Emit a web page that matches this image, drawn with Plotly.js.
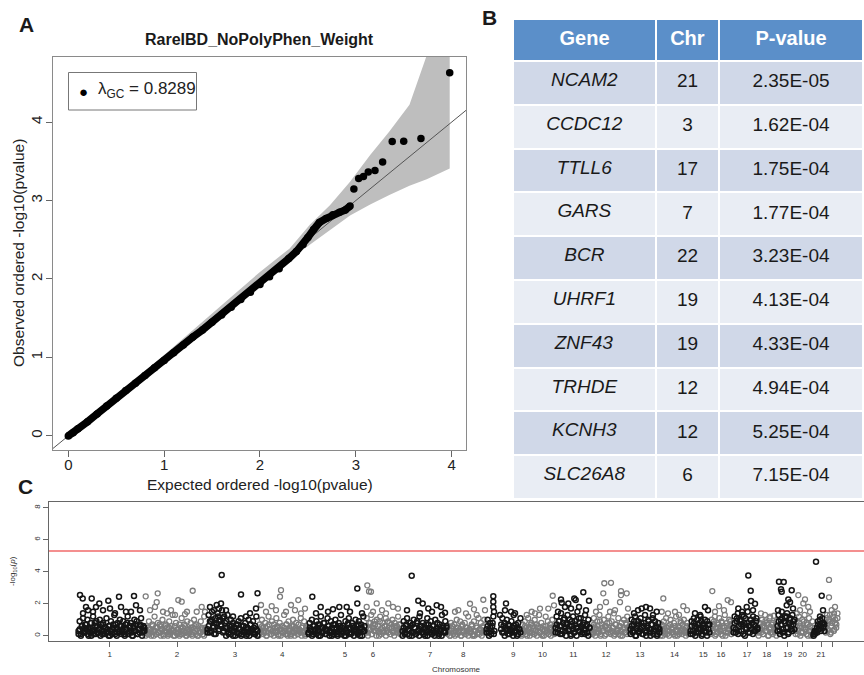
<!DOCTYPE html>
<html><head><meta charset="utf-8">
<script src="https://cdn.plot.ly/plotly-3.0.1.min.js"></script>
<style>html,body{margin:0;padding:0;background:#fff}#chart{width:864px;height:675px}
#chart .table .cell-text{transform:translateY(4px)}</style>
</head><body><div id="chart"></div>
<script>
// ---------- Panel B: top genes ----------
const genes = ['NCAM2','CCDC12','TTLL6','GARS','BCR','UHRF1','ZNF43','TRHDE','KCNH3','SLC26A8'];
const geneChr = ['21','3','17','7','22','19','19','12','12','6'];
const pValues = ['2.35E-05','1.62E-04','1.75E-04','1.77E-04','3.23E-04','4.13E-04','4.33E-04','4.94E-04','5.25E-04','7.15E-04'];

// ---------- Panel A: QQ plot ----------
const lambdaGC = '0.8289';
const qqExpBulk = [0.00,0.05,0.10,0.20,0.30,0.40,0.50,0.60,0.70,0.80,0.90,1.00,1.10,1.20,1.30,1.40,1.50,1.60,1.70,1.80,1.90,2.00,2.10,2.20,2.30,2.38,2.45,2.50,2.56,2.62,2.69,2.76,2.83,2.89,2.94];
const qqObsBulk = [0.00,0.04,0.09,0.18,0.28,0.38,0.48,0.58,0.67,0.77,0.87,0.96,1.06,1.16,1.26,1.35,1.45,1.54,1.64,1.74,1.83,1.93,2.03,2.13,2.26,2.35,2.44,2.53,2.63,2.72,2.77,2.82,2.85,2.88,2.93];
const qqExpTop = [3.98,3.68,3.50,3.38,3.28,3.20,3.13,3.08,3.03,2.98];
const bandX     = [0.00,0.50,1.00,1.50,2.00,2.31,2.52,2.73,2.94,3.15,3.35,3.56,3.74,3.98];
const bandUpper = [0.00,0.51,1.03,1.56,2.09,2.39,2.69,2.94,3.24,3.58,3.88,4.22,4.85,5.60];
const bandLower = [0.00,0.49,0.97,1.45,1.92,2.25,2.43,2.62,2.81,2.95,3.07,3.19,3.27,3.41];

// ---------- Panel C: Manhattan plot ----------
const chromLabels = ['1','2','3','4','5','6','7','8','9','10','11','12','13','14','15','16','17','18','19','20','21',''];
const chromTicks = [109.7,177,235,282.3,345,373,430,463.3,513.3,542.5,573.3,606,640,674.5,703.3,721,747,766.7,787.7,802.5,821,832.3];
const chromStart = [78,145,207,258,308,365,402,447,486,521,555,590,630,660,690,710,733,758,777,795,813,825];
const chromEnd   = [145,207,258,308,365,402,447,486,521,555,590,630,660,690,710,733,758,777,795,813,825,838];
const threshold = 5.29;
const bandY = [
 [0.3,0.9,0.1,0.6,1.1,0.2,0.7,0.4,1.0,0.0,0.5,0.8,0.3,1.2,0.1,0.6,0.9,0.2,0.4,1.0,0.7,0.1,0.8,0.3,0.5,1.1,0.2,0.6,0.0,0.9,0.4,0.7,1.3,0.1,0.5,0.8,0.2,1.0,0.6,0.3,0.9,0.1,0.7,0.4,1.2,0.2,0.5,0.8,0.0,0.6,1.0,0.3,0.9,0.1,0.4,0.7,1.1,0.2,0.6,0.3],
 [0.2,0.6,0.1,0.9,0.4,0.0,0.7,0.3,1.2,0.5,0.1,0.8,0.2,0.6,0.4,1.0,0.0,0.3,0.7,0.5,0.1,0.9,0.2,0.6,1.3,0.3,0.0,0.8,0.4,0.2,0.7,0.1,1.1,0.5,0.3,0.6,0.0,0.9,0.2,0.4,0.8,0.1,0.5,1.0,0.3,0.7,0.0,0.6,0.2,0.9,0.4,0.1,1.2,0.5,0.3],
 [0.4,1.3,0.2,0.9,1.5,0.6,0.1,1.1,0.8,1.4,0.3,1.0,0.7,1.6,0.2,1.2,0.5,0.9,1.3,0.1,0.6,1.0,0.3,0.8,0.5,0.0,0.7,0.2,0.9,0.4,1.1,0.1,0.6,0.3,0.8,0.0,0.5,1.0,0.2,0.7,0.4,0.9,0.1,0.6,1.2,0.3],
 [0.1,0.7,0.3,1.0,0.5,0.2,0.8,0.0,0.6,1.2,0.4,0.1,0.9,0.3,0.7,0.2,1.1,0.5,0.0,0.8,0.4,0.6,0.2,1.3,0.3,0.7,0.1,0.9,0.5,0.0,0.6,1.0,0.2,0.4,0.8,0.1,0.7,0.3,1.1,0.5,0.2,0.9,0.0,0.6,0.4],
 [0.2,0.8,0.4,1.0,0.1,0.6,0.3,0.9,0.5,0.0,0.7,1.2,0.2,0.5,0.8,0.1,0.4,1.1,0.6,0.3,0.9,0.0,0.7,0.2,1.0,0.5,0.1,0.8,0.4,1.3,0.3,0.6,0.0,0.9,0.2,0.7,1.1,0.4,0.1,0.8,0.5,0.3,1.0,0.6,0.2,0.9,0.0,0.7,0.4,1.2,0.3],
 [0.5,1.1,0.2,0.8,0.4,1.3,0.1,0.7,0.9,0.3,1.0,0.6,0.0,1.2,0.4,0.8,0.2,0.6,1.1,0.3,0.9,0.5,0.1,0.7,1.0,0.2,0.8,0.4,0.6,1.2,0.3,0.7,0.1],
 [0.3,0.9,0.1,0.6,1.1,0.4,0.0,0.8,0.2,0.7,1.0,0.5,0.1,0.9,0.3,1.2,0.6,0.2,0.8,0.4,0.0,0.7,1.1,0.3,0.5,0.9,0.1,0.6,0.2,1.0,0.4,0.8,0.0,0.7,0.3,1.3,0.5,0.2,0.9,0.6],
 [0.2,0.6,0.0,0.8,0.4,0.1,0.7,0.3,1.0,0.5,0.2,0.9,0.0,0.6,0.3,0.8,0.1,0.5,1.2,0.4,0.2,0.7,0.0,0.9,0.3,0.6,0.1,1.1,0.4,0.8,0.2,0.5,1.0,0.3],
 [0.4,1.0,0.2,0.8,0.1,0.6,1.2,0.3,null,null,null,null,null,0.7,1.1,0.2,0.8,0.4,1.0,0.1,0.6,0.3,0.9,0.5,1.3,0.2,0.7,0.0,0.8,0.4,1.1],
 [0.1,0.7,0.3,0.9,0.5,0.0,1.1,0.4,0.2,0.8,0.6,0.1,1.0,0.3,0.7,0.5,1.3,0.2,0.8,0.0,0.6,0.4,1.2,0.3,0.9,0.1,0.7,0.5,1.0,0.2,0.6],
 [0.5,1.2,0.2,0.9,0.6,1.4,0.1,0.8,1.1,0.3,0.7,1.3,0.4,1.0,0.0,0.6,1.2,0.2,0.9,0.5,1.5,0.3,0.8,1.1,0.1,0.7,0.4,1.3,0.6,0.2,1.0,0.5],
 [0.3,0.8,0.1,1.1,0.5,0.2,0.9,0.4,1.3,0.0,0.7,0.3,1.0,0.6,0.1,0.8,1.2,0.4,0.2,0.9,0.5,1.4,0.1,0.7,0.3,1.1,0.6,0.0,0.8,0.4,1.0,0.2,0.7,1.2,0.5,0.3],
 [0.4,1.0,0.2,0.7,1.2,0.0,0.6,0.9,0.3,1.1,0.5,0.1,0.8,1.3,0.2,0.6,1.0,0.4,0.0,0.7,1.1,0.3,0.9,0.5,0.1,0.8,0.4],
 [0.2,0.7,0.0,0.9,0.4,1.1,0.1,0.6,0.3,1.0,0.5,0.2,0.8,0.0,1.2,0.4,0.6,0.1,0.9,0.3,0.7,1.0,0.2,0.5,0.8,0.1,0.6],
 [0.3,0.9,0.1,1.1,0.6,0.2,1.0,0.4,0.8,1.2,0.0,0.7,0.5,1.0,0.2,0.9,0.4,0.7],
 [0.4,1.0,0.2,0.7,1.2,0.1,0.8,0.5,1.1,0.3,0.9,0.0,0.6,1.3,0.2,0.8,0.4,1.0,0.6,0.1,0.7],
 [0.5,1.2,0.2,0.9,1.4,0.3,1.0,0.7,1.3,0.1,0.8,1.1,0.4,1.5,0.6,0.2,1.0,0.8,1.2,0.3,0.6,1.1,0.4],
 [0.2,0.8,0.4,1.0,0.1,0.6,0.9,0.3,0.7,0.0,1.1,0.5,0.2,0.8,0.4,0.6,0.9],
 [0.6,1.3,0.3,1.0,1.5,0.2,0.9,1.2,0.5,1.4,0.1,0.8,1.1,0.4,1.3,0.7,1.0],
 [0.3,0.9,0.1,1.2,0.6,0.2,1.0,0.5,1.3,0.4,0.8,0.0,1.1,0.6,0.3,0.9],
 [0.1,0.3,0.2,0.5,0.7,0.4,1.0,0.6,1.1,0.8,0.3],
 [0.5,1.1,0.3,0.9,1.3,0.2,0.8,1.2,0.4,1.0,0.7,1.4]
];
const bandY2 = [
 [0.1,0.4,0.0,0.6,0.2,0.5,0.3,0.7,0.1,0.4,0.2,0.0,0.5,0.3,0.8,0.1,0.6,0.2,0.4,0.0,0.3,0.7,0.1,0.5,0.2,0.4,0.0,0.6,0.3,0.1,0.5,0.2,0.7,0.0,0.4,0.3,0.6,0.1,0.2,0.5,0.0,0.4,0.8,0.1,0.3,0.6,0.2,0.0,0.5,0.3,0.7,0.1,0.4,0.2,0.6,0.0,0.3,0.5],
 [0.0,0.3,0.5,0.1,0.4,0.2,0.6,0.0,0.3,0.1,0.5,0.2,0.7,0.0,0.4,0.1,0.3,0.6,0.2,0.0,0.5,0.1,0.4,0.3,0.0,0.6,0.2,0.1,0.4,0.0,0.5,0.3,0.1,0.7,0.2,0.0,0.4,0.1,0.3,0.5,0.0,0.2,0.6,0.1,0.4,0.0,0.3,0.2,0.5,0.1,0.0,0.4,0.2],
 [0.2,0.6,0.9,0.3,1.0,0.5,0.8,0.1,0.7,1.2,0.4,0.9,0.6,1.1,0.3,0.8,0.0,0.5,0.2,0.4,0.1,0.6,0.0,0.3,0.5,0.2,0.7,0.1,0.4,0.0,0.3,0.6,0.2,0.5,0.1,0.4,0.0,0.7,0.3,0.2,0.5,0.1,0.4,0.0],
 [0.0,0.4,0.2,0.6,0.1,0.3,0.5,0.0,0.2,0.7,0.4,0.1,0.3,0.0,0.5,0.2,0.6,0.1,0.4,0.0,0.3,0.2,0.5,0.1,0.7,0.0,0.3,0.4,0.1,0.2,0.6,0.0,0.5,0.3,0.1,0.4,0.2,0.0,0.6,0.3,0.1,0.5,0.2],
 [0.1,0.5,0.3,0.0,0.6,0.2,0.4,0.1,0.7,0.3,0.0,0.5,0.2,0.8,0.4,0.1,0.3,0.6,0.0,0.2,0.5,0.1,0.4,0.7,0.2,0.0,0.3,0.6,0.1,0.5,0.2,0.4,0.0,0.3,0.8,0.1,0.5,0.2,0.6,0.0,0.4,0.3,0.1,0.7,0.2,0.5,0.0,0.3,0.6],
 [0.2,0.6,0.0,0.4,0.8,0.1,0.5,0.3,0.7,0.0,0.4,0.2,0.9,0.1,0.5,0.3,0.6,0.0,0.4,0.2,0.8,0.1,0.5,0.3,0.0,0.6,0.2,0.4,0.7,0.1,0.3],
 [0.0,0.5,0.2,0.7,0.1,0.4,0.3,0.6,0.0,0.2,0.5,0.1,0.8,0.3,0.0,0.4,0.6,0.2,0.1,0.5,0.3,0.0,0.7,0.2,0.4,0.1,0.6,0.0,0.3,0.5,0.2,0.1,0.4,0.0,0.6,0.3,0.2,0.5],
 [0.1,0.4,0.0,0.3,0.6,0.2,0.0,0.5,0.1,0.3,0.4,0.0,0.7,0.2,0.1,0.5,0.3,0.0,0.4,0.2,0.6,0.1,0.0,0.3,0.5,0.2,0.1,0.4,0.0,0.6,0.3,0.2],
 [0.2,0.6,0.0,0.5,0.3,0.8,0.1,null,null,null,null,null,0.4,0.2,0.6,0.0,0.5,0.3,0.7,0.1,0.4,0.2,0.0,0.6,0.3,0.5,0.1,0.4,0.2],
 [0.0,0.4,0.2,0.6,0.1,0.3,0.5,0.0,0.7,0.2,0.4,0.1,0.3,0.0,0.6,0.2,0.5,0.1,0.4,0.0,0.3,0.6,0.2,0.1,0.5,0.0,0.4,0.3,0.1],
 [0.2,0.7,0.4,0.9,0.1,0.6,0.3,1.0,0.5,0.0,0.8,0.3,0.6,0.1,0.9,0.4,0.2,0.7,0.0,0.5,1.1,0.3,0.6,0.2,0.8,0.1,0.4,0.7,0.0,0.5],
 [0.1,0.5,0.2,0.7,0.0,0.4,0.6,0.2,0.9,0.1,0.5,0.3,0.0,0.6,0.4,0.2,0.8,0.1,0.3,0.5,0.0,0.7,0.2,0.4,0.1,0.6,0.3,0.0,0.5,0.2,0.8,0.1,0.4,0.6],
 [0.1,0.6,0.3,0.9,0.0,0.5,0.7,0.2,0.4,0.8,0.1,0.6,0.3,0.0,0.5,0.9,0.2,0.4,0.7,0.1,0.3,0.6,0.0,0.5,0.2],
 [0.0,0.4,0.2,0.6,0.1,0.5,0.3,0.0,0.7,0.2,0.4,0.1,0.6,0.3,0.0,0.5,0.2,0.8,0.1,0.4,0.3,0.0,0.6,0.2,0.4],
 [0.1,0.6,0.3,0.8,0.0,0.5,0.7,0.2,0.4,0.9,0.1,0.6,0.3,0.5,0.0,0.7,0.2],
 [0.1,0.6,0.3,0.9,0.0,0.5,0.2,0.7,0.4,0.1,0.8,0.3,0.5,0.0,0.6,0.2,0.4,0.9,0.1,0.3],
 [0.2,0.8,0.4,1.1,0.1,0.6,0.9,0.3,0.7,1.2,0.0,0.5,0.8,0.2,0.6,1.0,0.4,0.1,0.7,0.3,0.9,0.5],
 [0.0,0.4,0.2,0.6,0.1,0.5,0.3,0.8,0.0,0.4,0.2,0.7,0.1,0.5,0.3,0.0],
 [0.3,0.9,0.1,0.7,1.1,0.4,0.0,0.8,1.2,0.5,0.2,1.0,0.6,0.3,0.9,0.4],
 [0.1,0.6,0.3,0.8,0.0,0.5,0.2,0.9,0.4,0.1,0.7,0.3,0.6,0.0,0.5],
 [0.0,0.1,0.3,0.2,0.4,0.6,0.3,0.8,0.5,0.7],
 [0.2,0.7,0.4,1.0,0.1,0.6,0.9,0.3,0.8,0.5,1.1]
];
const peakChr = [1,1,1,1,1,1,1,1,1,1,1,1,1,1,1,1,1,1,1,1,
 2,2,2,2,2,2,2,2,2,2,2,2,2,2,2,2,2,
 3,3,3,3,3,3,3,3,3,3,3,3,3,
 4,4,4,4,4,4,4,4,4,4,4,4,
 5,5,5,5,5,5,5,5,5,5,5,
 6,6,6,6,6,6,6,6,6,6,6,
 7,7,7,7,7,7,7,7,7,7,
 8,8,8,8,8,8,8,8,
 9,9,9,9,9,9,9,9,9,
 10,10,10,10,10,10,10,
 11,11,11,11,11,11,11,11,11,11,11,11,
 12,12,12,12,12,12,12,12,12,12,12,12,12,
 13,13,13,13,13,13,13,
 14,14,14,14,14,14,14,
 15,15,15,15,
 16,16,16,16,16,16,
 17,17,17,17,17,17,17,17,
 18,18,18,18,
 19,19,19,19,19,19,19,19,19,19,
 20,20,20,20,20,20,20,
 21,21,21,21,21,
 22,22,22,22,22,22];
const peakPos = [80,82.7,91.7,99.3,108.3,119,134,86,96,110,121,136,88,103,126,140,83,93,115,131,
 145.7,156.7,157.7,155,163,171,178.3,181.7,192.7,187,196.7,201.7,150,167,175,185,205,
 210,216.7,221.7,221,214,233,241,246,256,257.5,250,226,219,
 261,271.7,280,281,291,298.3,301,266,276,286,295,305,
 312.3,320.7,328,333,339.3,346.7,357.3,357.3,316,350,362,
 367.3,369,371,376.7,388.3,393,366.7,382,398,373,386,
 411.7,418.3,422.7,436.7,428.3,407,432,441,445,420,
 455,470,458.3,476.7,483.3,485,466,474,
 493.3,493.3,493.3,494,506,505,511,515,500,
 531.7,540,548.3,552.7,535,526.7,554,
 561,561.7,568.3,574.3,575.7,583.3,589,565,571,579,586,558,
 604.3,611,603.3,606,621,621,626.7,620,615,596,610,628,600,
 641.7,646,650,656.7,634,638,653,
 663.3,683.3,661.7,675,668,687,679,
 705,708,695,700,
 712.3,719,727.7,731,715,724,
 748.3,750.7,751,755,746.7,738.3,742,753,
 770,765,761,774,
 779,783.7,781,781.7,791.7,788.3,790,786.7,778,793,
 798.3,805,803.3,808.3,810,800,797,
 816,821.7,820,823,818,
 829,829,835,831.7,834,827];
const peakY = [2.54,2.33,2.33,2.02,2.19,2.44,2.48,1.8,1.8,1.7,1.8,1.9,1.6,1.6,1.5,1.6,1.4,1.5,1.4,1.5,
 2.46,2.1,2.65,1.8,1.5,1.6,2.23,2.13,2.81,1.5,1.5,1.8,1.6,1.4,1.3,1.35,1.5,
 1.8,1.92,3.79,2.02,1.6,1.2,2.58,1.2,1.7,2.65,1.4,1.6,1.7,
 1.92,1.85,2.44,2.85,1.92,2.23,1.4,1.5,1.6,1.5,1.6,1.7,
 2.44,1.8,1.5,1.65,1.8,1.8,2.96,2.02,1.4,1.5,1.4,
 3.15,2.77,2.75,2.02,2.02,1.8,1.8,1.6,1.7,1.5,1.4,
 3.75,2.19,2.02,1.9,1.7,1.6,1.5,1.8,1.44,1.4,
 1.5,2.0,1.6,1.3,2.25,1.6,1.4,1.65,
 2.46,2.13,1.8,1.5,2.02,1.6,1.5,1.4,1.3,
 1.5,1.7,1.7,2.5,1.4,1.3,1.9,
 2.27,2.06,2.02,2.33,2.23,2.71,2.19,1.8,1.7,1.8,1.6,1.5,
 3.28,3.31,2.65,2.1,2.79,2.54,2.65,2.1,1.6,1.5,1.5,1.7,1.8,
 1.7,1.8,1.7,1.5,1.4,1.6,1.3,
 2.33,1.85,1.5,1.5,1.4,1.6,1.3,
 1.8,1.6,1.4,1.3,
 2.79,1.85,2.23,2.1,1.5,1.6,
 3.76,2.81,2.17,2.0,1.8,1.7,1.5,1.6,
 1.2,1.3,1.4,1.25,
 3.38,3.36,2.9,2.75,2.85,2.27,2.1,1.9,1.6,1.7,
 2.54,2.27,2.02,1.8,1.5,1.6,1.4,
 4.63,2.5,1.2,1.6,0.9,
 3.49,2.4,1.8,1.6,1.4,1.3];

// ---------- build ----------
const FONT = 'Liberation Sans, Arial, Helvetica, sans-serif';
const W = 864, H = 675;
const px = v => v / W, py = v => 1 - v / H;
const BLACK = '#151515', GREY = '#7c7c7c';

const qqObsTop = pValues.map(p => -Math.log10(parseFloat(p)));

const traces = [];
traces.push({type:'scatter', mode:'lines', xaxis:'x', yaxis:'y',
  x: bandX.concat(bandX.slice().reverse()),
  y: bandUpper.concat(bandLower.slice().reverse()),
  fill:'toself', fillcolor:'#BEBEBE', line:{width:0, color:'#BEBEBE'}, hoverinfo:'skip', showlegend:false});
traces.push({type:'scatter', mode:'lines', xaxis:'x', yaxis:'y', x:[-0.5,4.5], y:[-0.5,4.5],
  line:{color:'#555', width:1}, showlegend:false, hoverinfo:'skip'});
traces.push({type:'scatter', mode:'lines+markers', xaxis:'x', yaxis:'y', x:qqExpBulk, y:qqObsBulk,
  line:{color:'#000', width:7.5}, marker:{color:'#000', size:7.5}, showlegend:false});
traces.push({type:'scatter', mode:'markers', xaxis:'x', yaxis:'y', x:qqExpTop, y:qqObsTop,
  marker:{color:'#000', size:7.5}, showlegend:false});

// Manhattan
const mx = {b:[], g:[]}, my = {b:[], g:[]};
[bandY, bandY2].forEach(set => set.forEach((vals, c) => {
  const key = (c % 2 === 0) ? 'b' : 'g';
  const s = chromStart[c], e = chromEnd[c], n = vals.length;
  vals.forEach((v, k) => {
    if (v === null) return;
    mx[key].push(s + (k + 0.5) * (e - s) / n);
    my[key].push(v);
  });
}));
peakChr.forEach((c, i) => {
  const key = (c % 2 === 1) ? 'b' : 'g';
  mx[key].push(peakPos[i]); my[key].push(peakY[i]);
});
[['g', GREY, 1.3], ['b', BLACK, 1.5]].forEach(([k, col, lw]) => {
  traces.push({type:'scatter', mode:'markers', xaxis:'x2', yaxis:'y2', x:mx[k], y:my[k],
    marker:{symbol:'circle-open', size:5, color:col, line:{width:lw, color:col}}, showlegend:false});
});

// Table
const oddFill = '#D0D8E8', evenFill = '#E9EDF4';
const rowFill = genes.map((g, i) => i % 2 === 0 ? oddFill : evenFill);
traces.push({type:'table', domain:{x:[px(513), px(863)], y:[py(499), py(19)]},
  columnwidth:[143,63,144],
  header:{values:['<b>Gene</b>','<b>Chr</b>','<b>P-value</b>'], align:'center', height:42,
    fill:{color:'#5B8FC9'}, font:{family:FONT, size:20, color:'#FFFFFF'}, line:{color:'#FFFFFF', width:2}},
  cells:{values:[genes.map(g => '<i>' + g + '</i>'), geneChr, pValues], align:'center', height:43.8,
    fill:{color:[rowFill, rowFill, rowFill]}, font:{family:FONT, size:19, color:'#1a1a1a'}, line:{color:'#FFFFFF', width:2}}
});

const axQQ = {showgrid:false, zeroline:false, showline:true, mirror:true, linecolor:'#8a8a8a', linewidth:1,
  ticks:'outside', ticklen:6, tickcolor:'#666', tickfont:{family:FONT, size:15, color:'#222'}};
const axMH = {showgrid:false, zeroline:false, showline:true, linecolor:'#666', linewidth:1,
  ticks:'outside', ticklen:5, tickcolor:'#666', tickfont:{family:FONT, size:8, color:'#333'}};

const ann = (text, x, y, size, extra) => Object.assign({text, xref:'paper', yref:'paper', x:px(x), y:py(y),
  xanchor:'center', yanchor:'middle', showarrow:false, font:{family:FONT, size, color:'#1a1a1a'}}, extra || {});

const layout = {
  width:W, height:H, margin:{l:0, r:0, t:0, b:0}, paper_bgcolor:'#fff', plot_bgcolor:'#fff',
  font:{family:FONT}, showlegend:false,
  xaxis: Object.assign({}, axQQ, {domain:[px(53), px(466)], range:[-0.16, 4.15], tickvals:[0,1,2,3,4], anchor:'y', ticklabelstandoff:-5}),
  yaxis: Object.assign({}, axQQ, {domain:[py(450), py(57)], range:[-0.18, 4.83], tickvals:[0,1,2,3,4], tickangle:-90, anchor:'x', ticklabelstandoff:-2}),
  xaxis2: Object.assign({}, axMH, {domain:[px(49), 1], range:[49, 864], mirror:true, tickvals:chromTicks, ticktext:chromLabels,
    tickangle:0, anchor:'y2'}),
  yaxis2: Object.assign({}, axMH, {domain:[py(641), py(502)], range:[-0.33, 8.36], tickvals:[0,2,4,6,8], tickangle:-90, anchor:'x2'}),
  shapes:[
    {type:'line', xref:'x2 domain', yref:'y2', x0:0, x1:1, y0:threshold, y1:threshold, line:{color:'#F06A6A', width:1.5}},
    {type:'rect', xref:'paper', yref:'paper', x0:px(68.5), x1:px(196.5), y0:py(110), y1:py(72.5), line:{color:'#777', width:1}, fillcolor:'rgba(0,0,0,0)'}
  ],
  annotations:[
    ann('<b>A</b>', 26, 24, 21),
    ann('<b>B</b>', 489, 18, 21),
    ann('<b>C</b>', 25, 486, 21),
    ann('<b>RareIBD_NoPolyPhen_Weight</b>', 259.5, 40, 16),
    ann('Expected ordered -log10(pvalue)', 259.5, 484, 15.5, {font:{family:FONT, size:15.5, color:'#222'}}),
    ann('Observed ordered -log10(pvalue)', 18, 253, 15.5, {textangle:-90, font:{family:FONT, size:15.5, color:'#222'}}),
    ann('●', 83.5, 91, 15, {font:{family:FONT, size:15, color:'#000'}}),
    ann('λ<sub>GC</sub> = ' + lambdaGC, 96, 90, 17, {xanchor:'left', font:{family:FONT, size:17, color:'#222'}}),
    ann('-log<sub>10</sub>(<i>p</i>)', 13, 571, 8, {textangle:-90, font:{family:FONT, size:8, color:'#333'}}),
    ann('Chromosome', 456, 669.5, 8, {font:{family:FONT, size:8, color:'#333'}})
  ]
};

Plotly.newPlot('chart', traces, layout, {staticPlot:true, displayModeBar:false});
</script></body></html>
